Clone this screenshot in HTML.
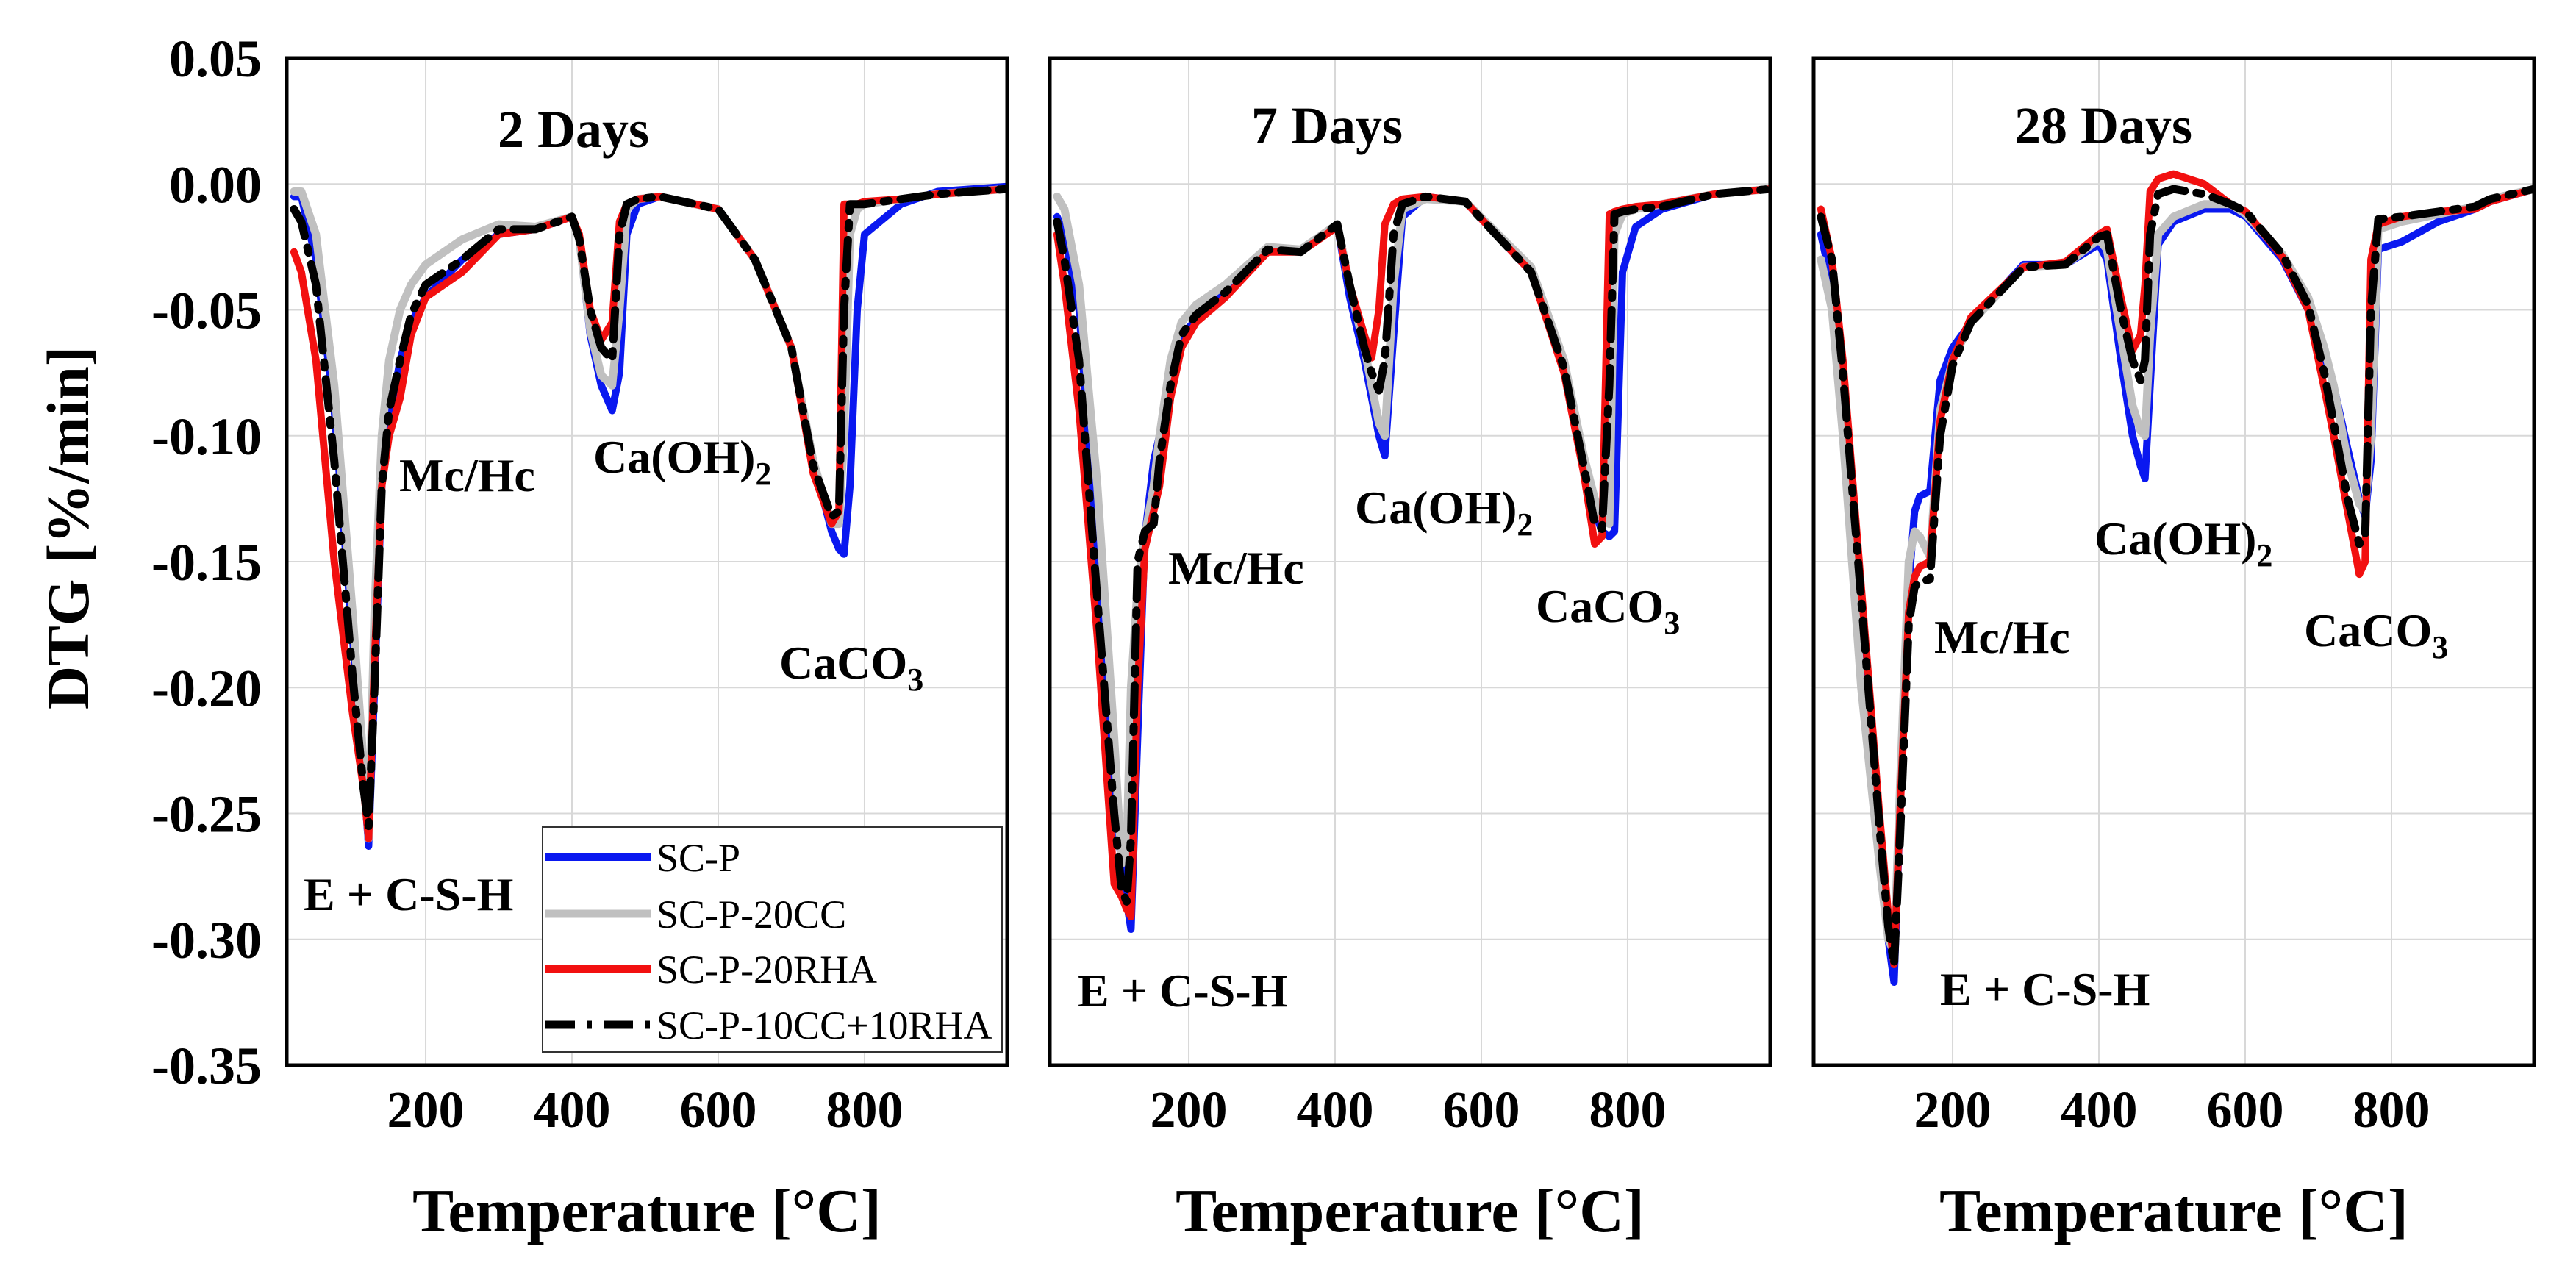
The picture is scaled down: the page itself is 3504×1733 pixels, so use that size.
<!DOCTYPE html>
<html><head><meta charset="utf-8">
<style>
html,body{margin:0;padding:0;background:#fff;}
svg{display:block;}
text{font-family:"Liberation Serif",serif;}
</style></head>
<body>
<svg id="chart" width="3504" height="1733" viewBox="0 0 3504 1733" xmlns="http://www.w3.org/2000/svg"></svg>
<script>
// ---- data ----
const panelTitles = ["2 Days", "7 Days", "28 Days"];
const seriesNames = ["SC-P", "SC-P-20CC", "SC-P-20RHA", "SC-P-10CC+10RHA"];
const yTicks = [0.05, 0.00, -0.05, -0.10, -0.15, -0.20, -0.25, -0.30, -0.35];
const yTickLabels = ["0.05", "0.00", "-0.05", "-0.10", "-0.15", "-0.20", "-0.25", "-0.30", "-0.35"];
const xTicks = [200, 400, 600, 800];

const temps2d = [20,30,50,75,100,115,122,130,140,150,165,180,200,250,300,350,400,410,425,440,455,465,475,490,520,600,650,700,730,755,765,772,780,790,800,850,900,995];
const blue2d = [-0.005,-0.005,-0.03,-0.09,-0.18,-0.235,-0.263,-0.2,-0.12,-0.095,-0.07,-0.055,-0.045,-0.03,-0.02,-0.018,-0.013,-0.022,-0.06,-0.08,-0.09,-0.075,-0.02,-0.008,-0.005,-0.01,-0.03,-0.065,-0.11,-0.138,-0.145,-0.147,-0.12,-0.05,-0.02,-0.008,-0.003,-0.001];
const gray2d = [-0.003,-0.003,-0.02,-0.08,-0.17,-0.23,-0.26,-0.17,-0.1,-0.07,-0.05,-0.04,-0.032,-0.022,-0.016,-0.017,-0.013,-0.022,-0.058,-0.076,-0.08,-0.05,-0.01,-0.006,-0.005,-0.01,-0.03,-0.065,-0.11,-0.135,-0.135,-0.10,-0.02,-0.01,-0.008,-0.006,-0.004,-0.002];
const red2d = [-0.027,-0.035,-0.07,-0.15,-0.21,-0.24,-0.26,-0.19,-0.12,-0.1,-0.085,-0.06,-0.045,-0.035,-0.02,-0.018,-0.013,-0.02,-0.05,-0.062,-0.055,-0.015,-0.008,-0.006,-0.005,-0.01,-0.03,-0.065,-0.115,-0.135,-0.13,-0.008,-0.008,-0.008,-0.007,-0.006,-0.004,-0.002];
const black2d = [-0.01,-0.015,-0.04,-0.11,-0.195,-0.24,-0.255,-0.2,-0.12,-0.09,-0.07,-0.052,-0.04,-0.03,-0.018,-0.018,-0.013,-0.022,-0.05,-0.065,-0.07,-0.02,-0.008,-0.006,-0.005,-0.01,-0.03,-0.065,-0.112,-0.132,-0.13,-0.05,-0.008,-0.008,-0.008,-0.006,-0.004,-0.002];

const temps7d = [20,30,50,75,98,108,115,121,130,140,152,160,175,190,210,250,308,353,403,420,440,450,460,468,480,492,524,578,668,713,740,755,765,775,782,793,811,847,919,995];
const blue7d = [-0.013,-0.02,-0.05,-0.15,-0.24,-0.27,-0.285,-0.296,-0.22,-0.14,-0.11,-0.1,-0.075,-0.06,-0.054,-0.042,-0.026,-0.027,-0.016,-0.045,-0.07,-0.085,-0.1,-0.108,-0.06,-0.013,-0.005,-0.007,-0.035,-0.073,-0.11,-0.13,-0.138,-0.140,-0.138,-0.035,-0.017,-0.01,-0.004,-0.002];
const gray7d = [-0.005,-0.01,-0.04,-0.12,-0.22,-0.27,-0.265,-0.2,-0.16,-0.14,-0.12,-0.1,-0.07,-0.055,-0.048,-0.04,-0.025,-0.026,-0.016,-0.04,-0.065,-0.08,-0.095,-0.1,-0.04,-0.01,-0.006,-0.007,-0.033,-0.07,-0.108,-0.125,-0.133,-0.135,-0.02,-0.012,-0.01,-0.008,-0.004,-0.002];
const red7d = [-0.02,-0.04,-0.09,-0.18,-0.278,-0.283,-0.288,-0.291,-0.2,-0.145,-0.13,-0.12,-0.085,-0.065,-0.055,-0.045,-0.027,-0.027,-0.017,-0.04,-0.06,-0.069,-0.05,-0.016,-0.008,-0.006,-0.005,-0.007,-0.035,-0.075,-0.115,-0.143,-0.14,-0.012,-0.011,-0.01,-0.009,-0.008,-0.004,-0.002];
const black7d = [-0.015,-0.03,-0.07,-0.165,-0.25,-0.28,-0.285,-0.26,-0.15,-0.138,-0.135,-0.11,-0.08,-0.06,-0.052,-0.043,-0.026,-0.027,-0.016,-0.04,-0.065,-0.075,-0.082,-0.07,-0.02,-0.008,-0.005,-0.007,-0.035,-0.073,-0.112,-0.135,-0.137,-0.08,-0.012,-0.011,-0.01,-0.009,-0.004,-0.002];

const temps28d = [20,35,50,75,100,112,120,128,140,148,155,169,183,200,225,297,354,400,411,430,446,457,463,470,481,502,544,580,601,651,686,708,721,740,756,764,772,782,814,864,914,935,995];
const blue28d = [-0.02,-0.04,-0.08,-0.17,-0.26,-0.3,-0.317,-0.25,-0.16,-0.13,-0.124,-0.122,-0.078,-0.065,-0.055,-0.032,-0.032,-0.024,-0.03,-0.07,-0.1,-0.112,-0.117,-0.08,-0.024,-0.015,-0.01,-0.01,-0.013,-0.03,-0.05,-0.068,-0.08,-0.105,-0.125,-0.132,-0.11,-0.026,-0.023,-0.015,-0.01,-0.007,-0.002];
const gray28d = [-0.03,-0.05,-0.1,-0.2,-0.27,-0.3,-0.305,-0.24,-0.15,-0.138,-0.14,-0.148,-0.09,-0.07,-0.055,-0.033,-0.032,-0.022,-0.026,-0.06,-0.088,-0.098,-0.1,-0.06,-0.02,-0.013,-0.008,-0.008,-0.012,-0.028,-0.045,-0.065,-0.08,-0.11,-0.127,-0.13,-0.1,-0.018,-0.015,-0.012,-0.009,-0.006,-0.002];
const red28d = [-0.01,-0.03,-0.07,-0.16,-0.25,-0.29,-0.31,-0.25,-0.17,-0.156,-0.152,-0.15,-0.094,-0.07,-0.053,-0.033,-0.031,-0.02,-0.018,-0.045,-0.066,-0.06,-0.04,-0.003,0.002,0.004,0.0,-0.008,-0.011,-0.029,-0.05,-0.081,-0.1,-0.13,-0.155,-0.15,-0.03,-0.016,-0.013,-0.011,-0.01,-0.007,-0.002];
const black28d = [-0.013,-0.03,-0.075,-0.165,-0.255,-0.295,-0.31,-0.26,-0.175,-0.16,-0.158,-0.157,-0.1,-0.072,-0.055,-0.033,-0.032,-0.021,-0.02,-0.05,-0.07,-0.078,-0.07,-0.02,-0.004,-0.002,-0.004,-0.008,-0.011,-0.028,-0.048,-0.075,-0.095,-0.125,-0.143,-0.14,-0.05,-0.014,-0.013,-0.011,-0.009,-0.006,-0.002];

const panelTemps = [temps2d, temps7d, temps28d];
const panelSeries = [[blue2d, gray2d, red2d, black2d],[blue7d, gray7d, red7d, black7d],[blue28d, gray28d, red28d, black28d]];

// ---- layout ----
const NS = "http://www.w3.org/2000/svg";
const svg = document.getElementById('chart');
const panelLeft = [390, 1428, 2467];
const PW = 980, TOP = 79, BOT = 1449;
const X0 = 10, X1 = 995, Y0 = 0.05, Y1 = -0.35;
const colors = ["#0a18f0", "#c0c0c0", "#f21010", "#000000"];
const widths = [10, 11, 10, 11];
const dashes = [null, null, null, "40 16 7 16"];
const annos = [
  [["Mc/Hc",543,668,null],["Ca(OH)","807",643,"2"],["CaCO","1060",923,"3"],["E + C-S-H",413,1238,null]],
  [["Mc/Hc",1589,794,null],["Ca(OH)","1843",712,"2"],["CaCO","2089",846,"3"],["E + C-S-H",1466,1369,null]],
  [["Mc/Hc",2631,888,null],["Ca(OH)","2849",754,"2"],["CaCO","3134",879,"3"],["E + C-S-H",2639,1367,null]]
];
function xs(p, t){ return panelLeft[p] + (t - X0) / (X1 - X0) * PW; }
function ys(v){ return TOP + (Y0 - v) / (Y0 - Y1) * (BOT - TOP); }
function mk(tag, attrs, parent){ const e=document.createElementNS(NS,tag); for(const k in attrs) e.setAttribute(k, attrs[k]); (parent||svg).appendChild(e); return e; }

const defs = mk('defs', {});
for (let p=0;p<3;p++){
  const cp = mk('clipPath', {id:'clip'+p}, defs);
  mk('rect', {x:panelLeft[p], y:TOP, width:PW, height:BOT-TOP}, cp);
}

for (let p=0;p<3;p++){
  const g = mk('g', {});
  
  
  for (const v of yTicks){
    const l = mk('line', {x1:panelLeft[p], x2:panelLeft[p]+PW, y1:ys(v), y2:ys(v), stroke:'#d8d8d8', 'stroke-width':2}, g);
    
    
  }
  for (const t of xTicks){
    const l = mk('line', {x1:xs(p,t), x2:xs(p,t), y1:TOP, y2:BOT, stroke:'#d8d8d8', 'stroke-width':2}, g);
    
    
    const tx = mk('text', {x:xs(p,t), y:1533, 'text-anchor':'middle', 'font-size':70, 'font-weight':'bold'}, g);
    tx.textContent = t;
    
    
  }
  const temps = panelTemps[p];
  const sg = mk('g', {'clip-path':'url(#clip'+p+')'}, g);
  for (let s=0;s<4;s++){
    const vals = panelSeries[p][s];
    let d = '';
    for (let i=0;i<temps.length;i++) d += (i?'L':'M') + xs(p,temps[i]).toFixed(1) + ',' + ys(vals[i]).toFixed(1);
    const a = {d:d, fill:'none', stroke:colors[s], 'stroke-width':widths[s], 'stroke-linejoin':'round', 'stroke-linecap':'round'};
    if (dashes[s]) a['stroke-dasharray'] = dashes[s];
    const path = mk('path', a, sg);
    
    
  }
  const fr = mk('rect', {x:panelLeft[p], y:TOP, width:PW, height:BOT-TOP, fill:'none', stroke:'#000', 'stroke-width':5}, g);
  
  
  const tt = mk('text', {x:[780,1805,2861][p], y:[200,195,195][p], 'text-anchor':'middle', 'font-size':72, 'font-weight':'bold'}, g);
  tt.textContent = panelTitles[p];
  
  
  for (const an of annos[p]){
    const t = mk('text', {x:an[1], y:an[2], 'font-size':64, 'font-weight':'bold'}, g);
    t.textContent = an[0];
    if (an[3]){ const sub = mk('tspan', {'font-size':44, dy:16}, t); sub.textContent = an[3]; }
    
    
  }
  const xt = mk('text', {x:panelLeft[p]+PW/2, y:1675, 'text-anchor':'middle', 'font-size':84, 'font-weight':'bold'}, g);
  xt.textContent = 'Temperature [°C]';
  
  
}

for (let i=0;i<yTicks.length;i++){
  const t = mk('text', {x:356, y:ys(yTicks[i])+25, 'text-anchor':'end', 'font-size':72, 'font-weight':'bold'});
  t.textContent = yTickLabels[i];
  
  
}
const yt = mk('text', {x:0, y:0, transform:'translate(120,718) rotate(-90)', 'text-anchor':'middle', 'font-size':82, 'font-weight':'bold'});
yt.textContent = 'DTG [%/min]';



const lg = mk('g', {});


mk('rect', {x:738, y:1125, width:625, height:306, fill:'#fff', stroke:'#333', 'stroke-width':2}, lg);
const legY = [1166, 1243, 1318, 1394];
for (let s=0;s<4;s++){
  const a = {x1:742, x2:885, y1:legY[s], y2:legY[s], stroke:colors[s], 'stroke-width':widths[s]};
  if (dashes[s]) a['stroke-dasharray'] = dashes[s];
  const ln = mk('line', a, lg);
  
  
  const t = mk('text', {x:893, y:legY[s]+19, 'font-size':54}, lg);
  t.textContent = seriesNames[s];
  
  
}
</script>
</body></html>
